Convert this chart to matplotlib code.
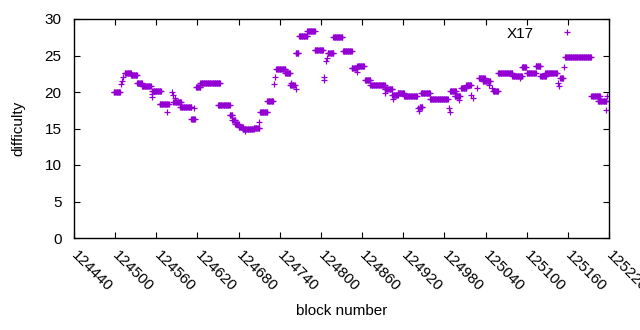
import matplotlib
matplotlib.use("Agg")
import matplotlib.pyplot as plt

plt.rcParams["font.family"] = ["Liberation Sans", "DejaVu Sans"]

# runs of blocks with the same difficulty: first block, last block, difficulty
run_start = [124498, 124514, 124523, 124532, 124539, 124554, 124565, 124585, 124595,
             124611, 124618, 124624, 124650, 124667, 124671, 124675, 124680, 124686,
             124702, 124711, 124722, 124735, 124748, 124755, 124763, 124768, 124780,
             124791, 124810, 124818, 124832, 124845, 124853, 124864, 124872, 124893,
             124904, 124912, 124921, 124944, 124946, 124959, 124988, 124995, 125004,
             125012, 125030, 125036, 125051, 125058, 125079, 125093, 125100, 125113,
             125120, 125127, 125149, 125156, 125194, 125204]
run_end = [124507, 124523, 124532, 124539, 124552, 124567, 124578, 124596, 124611,
           124616, 124624, 124653, 124667, 124671, 124675, 124680, 124686, 124702,
           124710, 124722, 124730, 124748, 124755, 124762, 124767, 124780, 124791,
           124803, 124818, 124831, 124845, 124853, 124863, 124872, 124893, 124904,
           124912, 124921, 124940, 124948, 124959, 124985, 124997, 125003, 125012,
           125019, 125039, 125047, 125058, 125079, 125093, 125099, 125113, 125120,
           125128, 125144, 125153, 125194, 125207, 125216]
run_value = [20.0, 22.6, 22.3, 21.2, 20.8, 20.1, 18.4, 18.6, 17.9,
             16.3, 20.7, 21.2, 18.2, 16.8, 16.1, 15.6, 15.2, 15.0,
             15.1, 17.2, 18.8, 23.1, 22.6, 21.0, 25.4, 27.7, 28.4,
             25.8, 25.3, 27.5, 25.6, 23.3, 23.6, 21.6, 20.9, 20.4,
             19.6, 19.9, 19.5, 18.0, 19.8, 19.0, 20.1, 19.5, 20.6,
             20.9, 21.9, 21.5, 20.1, 22.6, 22.2, 23.4, 22.6, 23.6,
             22.2, 22.6, 21.9, 24.8, 19.4, 18.7]

# single blocks between the runs
single_block = [124508, 124510, 124511, 124553, 124554, 124576, 124583, 124585, 124587,
                124615, 124689, 124710, 124731, 124733, 124756, 124763, 124804, 124805,
                124807, 124809, 124853, 124893, 124905, 124942, 124943, 124987, 124988,
                125001, 125019, 125022, 125028, 125045, 125049, 125090, 125146, 125147,
                125154, 125216, 125217]
single_value = [21.1, 21.5, 22.0, 19.7, 19.3, 17.2, 20.0, 19.6, 19.2,
                17.8, 14.6, 15.9, 21.1, 22.0, 21.2, 20.4, 22.0, 21.6,
                24.2, 24.6, 22.7, 19.9, 19.0, 17.8, 17.4, 17.8, 17.3,
                18.9, 19.6, 19.2, 20.6, 21.0, 20.5, 21.9, 21.2, 20.8,
                23.4, 17.6, 19.5]

blocks = []
difficulty = []
for s, e, v in zip(run_start, run_end, run_value):
    for b in range(s, e + 1):
        blocks.append(b)
        difficulty.append(v)
blocks += single_block
difficulty += single_value

xticks = list(range(124440, 125221, 60))

fig = plt.figure(figsize=(6.4, 3.3), dpi=100)
ax = fig.add_axes([74 / 640, 1 - 238 / 330, 535 / 640, 219 / 330])

ax.plot(blocks, difficulty, "+", color="#9400D3", ms=5, mew=0.9, label="X17")

ax.set_xlim(124440, 125220)
ax.set_ylim(0, 30)
ax.set_xticks(xticks)
ax.set_xticklabels([str(t) for t in xticks], rotation=-45, ha="left", va="center",
                   rotation_mode="anchor")
ax.set_yticks(range(0, 31, 5))
ax.tick_params(direction="in", top=True, right=True, length=4, width=0.8,
               labelsize=11)
ax.tick_params(axis="y", pad=9)
ax.tick_params(axis="x", pad=11)
for sp in ax.spines.values():
    sp.set_linewidth(1)

ax.set_xlabel("block number", fontsize=11, labelpad=7)
ax.set_ylabel("difficulty", fontsize=11, labelpad=14)

ax.legend(loc="upper right", markerfirst=False, frameon=False, fontsize=11,
          handlelength=2, handletextpad=1.2, borderaxespad=0.3, borderpad=0.2,
          bbox_to_anchor=(0.965, 1.0))

fig.savefig("out.png", dpi=100)
